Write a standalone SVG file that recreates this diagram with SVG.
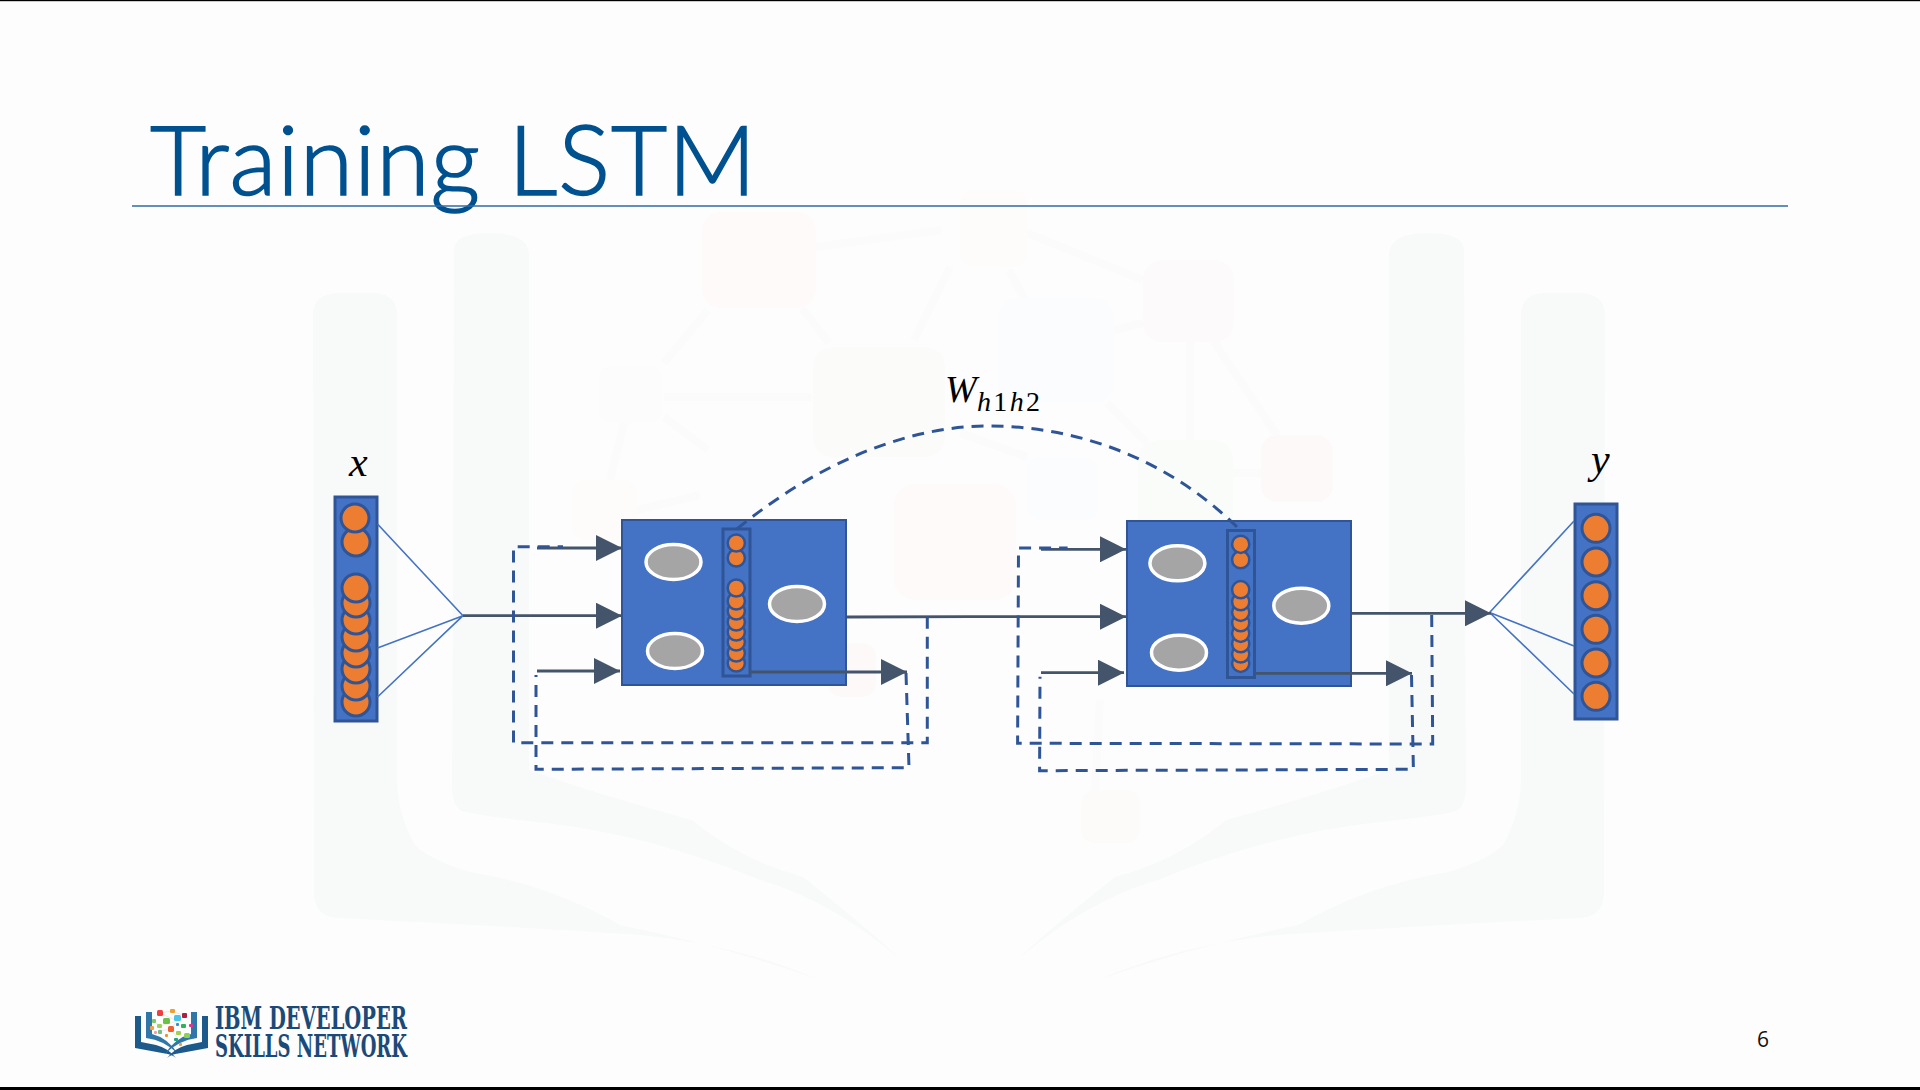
<svg xmlns="http://www.w3.org/2000/svg" width="1920" height="1090" viewBox="0 0 1920 1090">
<style>
.wm{fill:#f8fafa}
.wl{stroke:#fbfbfb;stroke-width:8;fill:none}
.bar{fill:#4472c4;stroke:#2f5597;stroke-width:3}
.box{fill:#4472c4;stroke:#2f5597;stroke-width:2}
.o{fill:#ed7d31;stroke:#2f5597;stroke-width:3}
.o2{fill:#ed7d31;stroke:#2f5597;stroke-width:2.5}
.g{fill:#a5a5a5;stroke:#fff;stroke-width:3.5}
.fan{stroke:#4472c4;stroke-width:1.6;fill:none}
.s{stroke:#44546a;stroke-width:2.8;fill:none}
.d{stroke:#2f5597;stroke-width:3;fill:none;stroke-dasharray:12 8}
.m{font-family:"Liberation Serif","DejaVu Serif",serif;font-style:italic;fill:#000}
.logo{font-family:"DejaVu Serif Condensed","DejaVu Serif",serif;font-weight:700;font-size:31px;fill:#1c4a78}
</style>
<defs>
<marker id="tri" markerUnits="userSpaceOnUse" markerWidth="26" markerHeight="26" refX="26" refY="13" orient="auto"><path d="M0 0L26 13L0 26Z" fill="#44546a"/></marker>
<g id="wm-half">
<path class="wm" d="M313 315Q313 293 340 293H372Q397 293 397 315V780Q398 815 415 845Q430 860 470 872Q550 885 620 925Q720 945 820 980Q740 945 640 935Q480 925 335 918Q315 915 314 895Z"/>
<path class="wm" d="M454 250Q454 233 490 233Q529 233 529 255V770Q600 795 692 820Q740 860 803 877Q870 930 901 960Q830 900 760 880Q650 835 546 823Q470 815 460 810Q453 805 452 790Z"/>
</g>
</defs>
<rect width="1920" height="1090" fill="#fdfdfd"/>
<g id="watermark">
<path class="wl" d="M708 310L664 363M802 308L829 343M664 397H811M664 417L708 450M624 423L610 480M816 247L941 230M950 267L914 340M1027 233L1143 280M1009 270L1025 300M1114 330L1143 323M1190 342V440M1214 342L1277 435M1107 403L1147 443M1233 473H1261M960 433L1027 457M637 510L700 495M1100 700L1095 790"/>
<use href="#wm-half"/>
<use href="#wm-half" transform="matrix(-1 0 0 1 1918 0)"/>
<rect x="702" y="212" width="114" height="96" rx="18" fill="#fefafa"/>
<rect x="960" y="190" width="67" height="77" rx="14" fill="#fdfcfb"/>
<rect x="599" y="365" width="63" height="58" rx="14" fill="#fbfcfb"/>
<rect x="813" y="347" width="132" height="110" rx="20" fill="#fbfcfa"/>
<rect x="572" y="480" width="65" height="60" rx="14" fill="#fdfcfa"/>
<rect x="1143" y="260" width="91" height="82" rx="20" fill="#fcfafa"/>
<rect x="998" y="298" width="116" height="105" rx="20" fill="#fbfcfd"/>
<rect x="1138" y="440" width="95" height="100" rx="20" fill="#fafcfa"/>
<rect x="1261" y="435" width="72" height="67" rx="16" fill="#fdf9f9"/>
<rect x="1027" y="457" width="71" height="63" rx="14" fill="#fbfcfd"/>
<rect x="894" y="484" width="122" height="116" rx="22" fill="#fdfaf9"/>
<rect x="1081" y="790" width="59" height="53" rx="14" fill="#fdfbfa"/>
<rect x="828" y="643" width="48" height="54" rx="14" fill="#fdf9f9"/>
</g>
<rect id="top-edge" width="1920" height="1.2" fill="#000"/>
<rect id="bottom-edge" y="1087" width="1920" height="3" fill="#000"/>
<g id="title">
<text x="150" y="195" font-family="Lato,'Open Sans',sans-serif" font-weight="300" font-size="97" fill="#00518f" stroke="#00518f" stroke-width="1.6" textLength="606" lengthAdjust="spacing">Training LSTM</text>
<line x1="132" y1="206" x2="1788" y2="206" stroke="#2f6aa5" stroke-width="1.5"/>
</g>
<g id="input-x">
<text class="m" x="349" y="476" font-size="42">x</text>
<rect class="bar" x="335" y="497" width="42" height="224"/>
<circle class="o" cx="356" cy="702" r="14"/><circle class="o" cx="356" cy="686" r="14"/><circle class="o" cx="356" cy="669" r="14"/><circle class="o" cx="356" cy="653" r="14"/><circle class="o" cx="356" cy="637" r="14"/><circle class="o" cx="356" cy="620" r="14"/><circle class="o" cx="356" cy="603" r="14"/><circle class="o" cx="356" cy="588" r="14"/>
<circle class="o" cx="356" cy="542" r="14"/><circle class="o" cx="355" cy="518" r="14"/>
</g>
<g id="lstm-1">
<rect class="box" x="622" y="520" width="224" height="165"/>
<ellipse class="g" cx="673.5" cy="562" rx="27.5" ry="17.5"/><ellipse class="g" cx="675" cy="651" rx="27.5" ry="17.5"/><ellipse class="g" cx="797" cy="604" rx="27.5" ry="17.5"/>
<rect class="bar" x="723" y="529" width="27" height="147"/>
<circle class="o2" cx="736.3" cy="663" r="8.6"/><circle class="o2" cx="736.3" cy="653" r="8.6"/><circle class="o2" cx="736.3" cy="642" r="8.6"/><circle class="o2" cx="736.3" cy="632" r="8.6"/><circle class="o2" cx="736.3" cy="622" r="8.6"/><circle class="o2" cx="736.3" cy="611" r="8.6"/><circle class="o2" cx="736.3" cy="601" r="8.6"/><circle class="o2" cx="736.3" cy="588" r="8.6"/>
<circle class="o2" cx="736.3" cy="558" r="8.6"/><circle class="o2" cx="736.3" cy="543" r="8.6"/>
</g>
<g id="lstm-2">
<rect class="box" x="1127" y="521" width="224" height="165"/>
<ellipse class="g" cx="1177.4" cy="563.3" rx="27.5" ry="17.5"/><ellipse class="g" cx="1179" cy="652.7" rx="27.5" ry="17.5"/><ellipse class="g" cx="1301.3" cy="605.7" rx="27.5" ry="17.5"/>
<rect class="bar" x="1227.5" y="530.5" width="27" height="147"/>
<circle class="o2" cx="1240.7" cy="663.3" r="8.6"/><circle class="o2" cx="1240.7" cy="654" r="8.6"/><circle class="o2" cx="1240.7" cy="643.7" r="8.6"/><circle class="o2" cx="1240.7" cy="633.3" r="8.6"/><circle class="o2" cx="1240.7" cy="622.7" r="8.6"/><circle class="o2" cx="1240.7" cy="612.3" r="8.6"/><circle class="o2" cx="1240.7" cy="601.7" r="8.6"/><circle class="o2" cx="1240.7" cy="589.7" r="8.6"/>
<circle class="o2" cx="1240.7" cy="559.7" r="8.6"/><circle class="o2" cx="1240.7" cy="544.3" r="8.6"/>
</g>
<g id="output-y">
<text class="m" x="1591" y="473" font-size="42">y</text>
<rect class="bar" x="1575" y="504" width="42" height="215"/>
<circle class="o" cx="1596" cy="528.3" r="14"/><circle class="o" cx="1596" cy="562" r="14"/><circle class="o" cx="1596" cy="595.7" r="14"/><circle class="o" cx="1596" cy="629.3" r="14"/><circle class="o" cx="1596" cy="663" r="14"/><circle class="o" cx="1596" cy="696.3" r="14"/>
</g>
<g id="weight-label">
<text class="m" x="945" y="402" font-size="38">W</text>
<text class="m" x="977" y="411" font-size="28" textLength="63" lengthAdjust="spacing">h<tspan font-style="normal">1</tspan>h<tspan font-style="normal">2</tspan></text>
</g>
<g id="connectors">
<path class="fan" d="M377.5 524L463 615.7M377.5 648L463 615.7M377.5 697L463 615.7"/>
<path class="fan" d="M1489.6 612.5L1574 521M1489.6 612.5L1574 646M1489.6 612.5L1574 694"/>
<line class="s" x1="463" y1="615.7" x2="622" y2="615.7" marker-end="url(#tri)"/>
<line class="s" x1="537" y1="548" x2="622" y2="548" marker-end="url(#tri)"/>
<line class="s" x1="537" y1="671" x2="620" y2="671" marker-end="url(#tri)"/>
<line class="s" x1="750" y1="672" x2="907" y2="672" marker-end="url(#tri)"/>
<path class="s" d="M847 617L970 616.7H1126" marker-end="url(#tri)"/>
<line class="s" x1="1041" y1="549.3" x2="1126" y2="549.3" marker-end="url(#tri)"/>
<line class="s" x1="1041" y1="672.7" x2="1124" y2="672.7" marker-end="url(#tri)"/>
<line class="s" x1="1255" y1="673.3" x2="1412" y2="673.3" marker-end="url(#tri)"/>
<line class="s" x1="1351.5" y1="613.3" x2="1491" y2="613.3" marker-end="url(#tri)"/>
<path class="d" d="M927.3 616.7V742.7H513.5V546.7H563"/>
<path class="d" d="M906 673L909 767.7L536 769.3V675"/>
<path class="d" d="M1431.7 615L1432.7 744L1017.6 743.3L1018.5 548H1067.6"/>
<path class="d" d="M1411.5 675L1413.4 769.3L1039.6 770.7L1040 676.7"/>
<path class="d" d="M737 529C815 465 905 426 988 426C1080 426 1170 460 1240 530"/>
</g>
<g id="logo">
<path d="M135 1016V1048L162 1053Q172 1054 176 1058Q168 1048 156 1045L141 1042V1016Z" fill="#1c5a8c"/>
<path d="M146 1012V1038Q164 1040 178 1054Q168 1038 152 1034V1012Z" fill="#2f77a8"/>
<path d="M208 1016V1048L181 1053Q171 1054 167 1058Q175 1048 187 1045L202 1042V1016Z" fill="#1c5a8c"/>
<path d="M197 1012V1038Q179 1040 165 1054Q175 1038 191 1034V1012Z" fill="#2f77a8"/>
<path fill="none" stroke="#e4dcd0" stroke-width="0.6" d="M160 1013L172 1011L185 1016L177 1021L160 1013M154 1021L160 1026L177 1021L171 1029M160 1026L160 1031L171 1029L178 1039"/>
<rect x="157" y="1010" width="6" height="6" rx="1.5" fill="#ef4040"/><rect x="170" y="1009" width="5" height="4" rx="1" fill="#f0a030"/><rect x="182" y="1013" width="5" height="5" rx="1" fill="#b01f40"/><rect x="174" y="1015" width="7" height="6" rx="1.5" fill="#4cc4ea"/><rect x="163" y="1018" width="7" height="6" rx="1.5" fill="#6cc04a"/><rect x="152" y="1019" width="4" height="4" rx="1" fill="#7ec86c"/><rect x="157" y="1024" width="5" height="4" rx="1" fill="#a0d060"/><rect x="150" y="1026" width="4" height="4" rx="1" fill="#f0a040"/><rect x="168" y="1026" width="6" height="6" rx="1.5" fill="#ef6030"/><rect x="181" y="1024" width="5" height="4" rx="1" fill="#30b060"/><rect x="189" y="1024" width="4" height="3" rx="1" fill="#e83090"/><rect x="176" y="1023" width="3" height="3" rx="1" fill="#3090d8"/><rect x="158" y="1030" width="4" height="4" rx="1" fill="#70c080"/><rect x="176" y="1031" width="5" height="4" rx="1" fill="#a0d050"/><rect x="184" y="1033" width="6" height="5" rx="1.5" fill="#90d050"/><rect x="174" y="1038" width="4" height="3" rx="1" fill="#20a080"/><rect x="179" y="1043" width="3" height="3" rx="1" fill="#f0a030"/><rect x="154" y="1031" width="3" height="3" rx="1" fill="#f0a0a0"/><rect x="165" y="1034" width="3" height="3" rx="1" fill="#f09030"/>
<text class="logo" x="215" y="1029" textLength="192" lengthAdjust="spacingAndGlyphs">IBM DEVELOPER</text>
<text class="logo" x="215" y="1057" textLength="192" lengthAdjust="spacingAndGlyphs">SKILLS NETWORK</text>
</g>
<text id="page-number" x="1757" y="1047" font-family="'Open Sans',sans-serif" font-size="21" fill="#111">6</text>
</svg>
